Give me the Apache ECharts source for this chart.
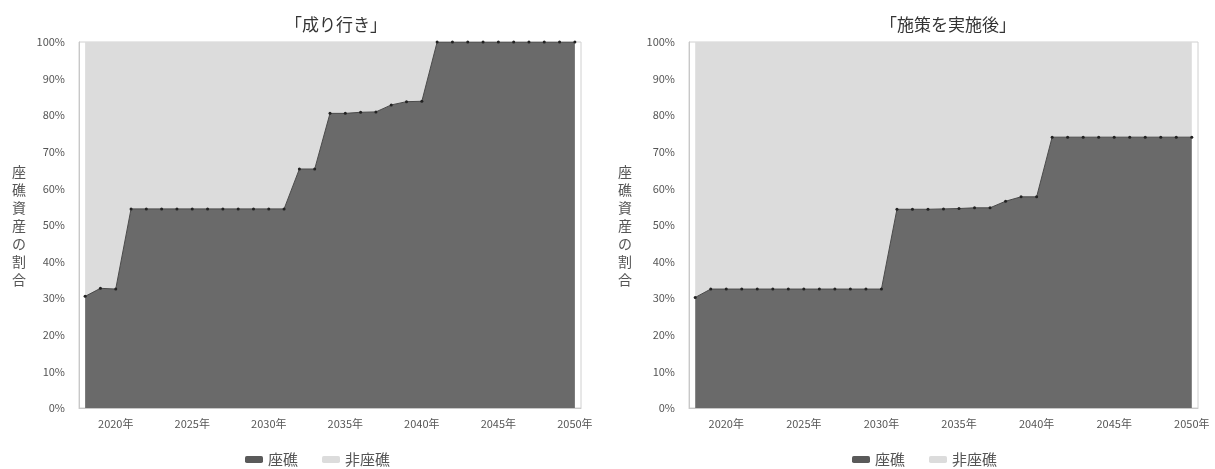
<!DOCTYPE html>
<html>
<head>
<meta charset="utf-8">
<script src="https://cdn.jsdelivr.net/npm/echarts@6/dist/echarts.min.js"></script>
<style>
  html, body { margin: 0; padding: 0; background: #ffffff; }
  #chart { width: 1215px; height: 469px; }
</style>
</head>
<body>
<div id="chart"></div>
<script>
// Years on the horizontal axis
const years = [2018, 2019, 2020, 2021, 2022, 2023, 2024, 2025, 2026, 2027, 2028,
               2029, 2030, 2031, 2032, 2033, 2034, 2035, 2036, 2037, 2038, 2039,
               2040, 2041, 2042, 2043, 2044, 2045, 2046, 2047, 2048, 2049, 2050];

// Share of stranded assets (%) – business as usual
const strandedBAU = [30.5, 32.7, 32.5,
                     54.4, 54.4, 54.4, 54.4, 54.4, 54.4, 54.4, 54.4, 54.4, 54.4, 54.4,
                     65.3, 65.3,
                     80.5, 80.5, 80.8, 80.9, 82.8, 83.7, 83.8,
                     100, 100, 100, 100, 100, 100, 100, 100, 100, 100];

// Share of stranded assets (%) – after measures are implemented
const strandedPolicy = [30.2,
                        32.5, 32.5, 32.5, 32.5, 32.5, 32.5, 32.5, 32.5, 32.5, 32.5, 32.5, 32.5,
                        54.3, 54.3, 54.3, 54.4, 54.5, 54.7, 54.7, 56.5, 57.7, 57.7,
                        74.0, 74.0, 74.0, 74.0, 74.0, 74.0, 74.0, 74.0, 74.0, 74.0];

// Labelled years on the horizontal axis
const yearTicks = [2020, 2025, 2030, 2035, 2040, 2045, 2050];

const panelTitles = ['「成り行き」', '「施策を実施後」'];
const seriesNames = ['座礁', '非座礁'];
const yAxisTitle = '座礁資産の割合';

const DARK = '#6a6a6a';
const LIGHT = '#dcdcdc';
const FONT = '"Noto Sans CJK JP", "Noto Sans", sans-serif';

// Rows are [share, year]: the share column comes first so that it is the stacked one
function rows(values) {
  return years.map((y, i) => [values[i], y]);
}
function complementRows(values) {
  return years.map((y, i) => [+(100 - values[i]).toFixed(1), y]);
}

function xAxis(gridIndex) {
  return {
    type: 'value', gridIndex,
    min: 2017.6, max: 2050.4,
    axisLine: { show: true, lineStyle: { color: '#c8c8c8' } },
    axisTick: { show: false },
    splitLine: { show: false },
    axisLabel: {
      customValues: yearTicks,
      formatter: v => v + '年',
      color: '#555', fontSize: 11, fontFamily: FONT, margin: 10
    }
  };
}
function yAxis(gridIndex) {
  return {
    type: 'value', gridIndex,
    min: 0, max: 100, interval: 10,
    axisLine: { show: true, lineStyle: { color: '#c8c8c8' } },
    axisTick: { show: false },
    splitLine: { show: false },
    axisLabel: { formatter: '{value}%', color: '#555', fontSize: 11, fontFamily: FONT, margin: 14 }
  };
}
function panelSeries(idx, values) {
  return [
    {
      name: seriesNames[0], type: 'line', xAxisIndex: idx, yAxisIndex: idx,
      stack: 'share' + idx, data: rows(values), encode: { x: 1, y: 0 },
      symbol: 'circle', symbolSize: 3,
      itemStyle: { color: '#222' },
      lineStyle: { color: '#4a4a4a', width: 1 },
      areaStyle: { color: DARK, opacity: 1 },
      z: 3
    },
    {
      name: seriesNames[1], type: 'line', xAxisIndex: idx, yAxisIndex: idx,
      stack: 'share' + idx, data: complementRows(values), encode: { x: 1, y: 0 },
      symbol: 'none',
      itemStyle: { color: LIGHT },
      lineStyle: { width: 0 },
      areaStyle: { color: LIGHT, opacity: 1 },
      z: 2
    }
  ];
}
function legend(left) {
  return {
    left, top: 447,
    icon: 'roundRect', itemWidth: 18, itemHeight: 7, itemGap: 24,
    textStyle: { color: '#555', fontSize: 15, fontFamily: FONT },
    data: [
      { name: seriesNames[0], itemStyle: { color: '#5a5a5a' } },
      { name: seriesNames[1], itemStyle: { color: LIGHT } }
    ]
  };
}
function verticalTitle(x) {
  return {
    type: 'text', x, y: 226,
    style: {
      text: yAxisTitle.split('').join('\n'),
      fill: '#555', fontSize: 14, lineHeight: 18, fontFamily: FONT,
      align: 'center', verticalAlign: 'middle'
    }
  };
}

const chart = echarts.init(document.getElementById('chart'), null, { renderer: 'canvas' });
chart.setOption({
  backgroundColor: '#ffffff',
  animation: false,
  title: [
    { text: panelTitles[0], left: 331, top: 11, textAlign: 'center',
      textStyle: { color: '#333', fontSize: 17, fontWeight: 'normal', fontFamily: FONT } },
    { text: panelTitles[1], left: 943, top: 11, textAlign: 'center',
      textStyle: { color: '#333', fontSize: 17, fontWeight: 'normal', fontFamily: FONT } }
  ],
  legend: [legend(240), legend(847)],
  grid: [
    { left: 79, top: 42, width: 502, height: 366, show: true, borderColor: '#d0d0d0', borderWidth: 1, backgroundColor: '#fff' },
    { left: 689, top: 42, width: 509, height: 366, show: true, borderColor: '#d0d0d0', borderWidth: 1, backgroundColor: '#fff' }
  ],
  xAxis: [xAxis(0), xAxis(1)],
  yAxis: [yAxis(0), yAxis(1)],
  series: [...panelSeries(0, strandedBAU), ...panelSeries(1, strandedPolicy)],
  graphic: [verticalTitle(19), verticalTitle(625)]
});
</script>
</body>
</html>
